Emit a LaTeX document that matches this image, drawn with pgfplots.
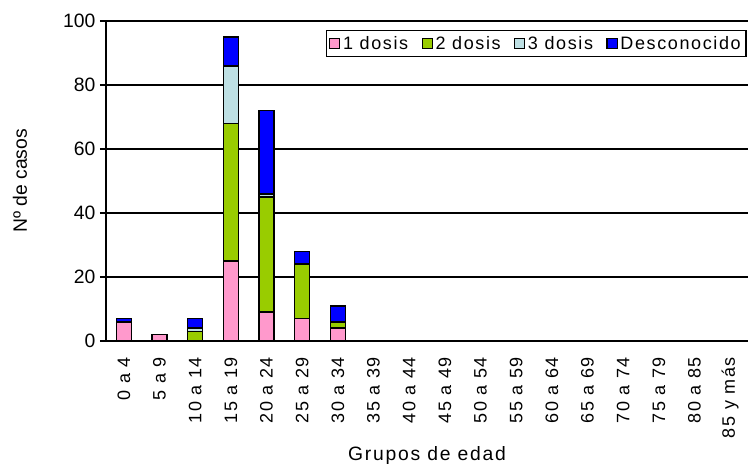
\documentclass[border=0pt]{standalone}
\usepackage{pgfplots}
\pgfplotsset{compat=1.18}
\usepackage{fontspec}
\setmainfont{Liberation Sans}
\newfontfamily\spaced[LetterSpace=9]{Liberation Sans}
\definecolor{cpink}{RGB}{255,153,204}
\definecolor{cgreen}{RGB}{153,204,0}
\definecolor{clight}{RGB}{190,224,228}
\definecolor{cblue}{RGB}{0,0,255}
\begin{document}
\begin{tikzpicture}
\path[use as bounding box] (-79.5pt,-95.25pt) rectangle (482.25pt,255.75pt);
\begin{axis}[
  at={(0,0)}, anchor=south west,
  width=481.5pt, height=240pt, scale only axis,
  ybar stacked, bar width=11.25pt,
  xmin=-0.5, xmax=17.5, ymin=0, ymax=100,
  axis x line*=bottom, axis y line*=left,
  axis line style={line width=1pt, -},
  ytick={0,20,...,100},
  ymajorgrids, grid style={black, line width=1pt},
  tick align=outside, major tick length=4.5pt,
  tick style={black, line width=1pt},
  /pgf/number format/assume math mode=true,
  xtick={0,...,17},
  xticklabels={0 a 4,5 a 9,10 a 14,15 a 19,20 a 24,25 a 29,30 a 34,35 a 39,40 a 44,45 a 49,50 a 54,55 a 59,60 a 64,65 a 69,70 a 74,75 a 79,80 a 85,85 y más},
  xtick style={draw=none},
  extra x ticks={-0.5,0.5,...,17.5},
  extra x tick labels={},
  extra x tick style={grid=none, tick style={draw=black, line width=1pt}},
  xticklabel style={rotate=90, anchor=east, xshift=-4pt, font=\spaced\fontsize{13.5}{13.5}\selectfont},
  yticklabel style={font=\fontsize{14.5}{14.5}\selectfont},
  xlabel={Grupos de edad},
  ylabel={Nº de casos},
  xlabel style={font=\spaced\fontsize{14.5}{14.5}\selectfont, at={(axis description cs:0.5,0)}, anchor=center, yshift=-86pt},
  ylabel style={font=\fontsize{14.5}{14.5}\selectfont, at={(axis description cs:-0.134,0.5)}, anchor=center},
  legend style={at={(0.998,0.972)}, anchor=north east, legend columns=4, draw=black, line width=1pt,
    font=\spaced\fontsize{13.5}{13.5}\selectfont, inner sep=2pt,
    /tikz/every even column/.append style={column sep=8pt}},
  legend image code/.code={\draw[#1, line width=0.9pt] (0pt,-3.8pt) rectangle (7.6pt,3.8pt);},
  every axis plot/.append style={draw=black, line width=1.1pt},
]
\addplot[fill=cpink] coordinates {(0,6) (1,2) (2,0) (3,25) (4,9) (5,7) (6,4)};
\addplot[fill=cgreen] coordinates {(0,0) (1,0) (2,3) (3,43) (4,36) (5,17) (6,2)};
\addplot[fill=clight] coordinates {(0,0) (1,0) (2,1) (3,18) (4,1) (5,0) (6,0)};
\addplot[fill=cblue] coordinates {(0,1) (1,0) (2,3) (3,9) (4,26) (5,4) (6,5)};
\legend{1 dosis,2 dosis,3 dosis,Desconocido}
\end{axis}
\end{tikzpicture}
\end{document}
